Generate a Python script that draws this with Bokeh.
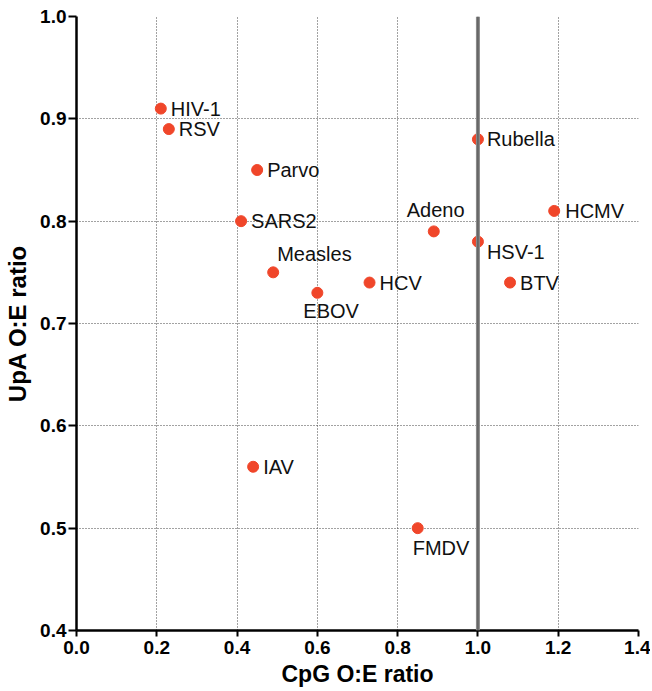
from bokeh.plotting import figure
from bokeh.models import ColumnDataSource, Span, FixedTicker, Range1d, PrintfTickFormatter
from bokeh.core.properties import value
from bokeh.embed import file_html
from bokeh.resources import INLINE

# ---- data ----
viruses = ["HIV-1", "RSV", "Parvo", "SARS2", "Measles", "EBOV", "HCV",
           "Adeno", "Rubella", "HSV-1", "HCMV", "BTV", "IAV", "FMDV"]
cpg_oe = [0.21, 0.23, 0.45, 0.41, 0.49, 0.60, 0.73,
          0.89, 1.00, 1.00, 1.19, 1.08, 0.44, 0.85]
upa_oe = [0.91, 0.89, 0.85, 0.80, 0.75, 0.73, 0.74,
          0.79, 0.88, 0.78, 0.81, 0.74, 0.56, 0.50]
x_ticks = [0.0, 0.2, 0.4, 0.6, 0.8, 1.0, 1.2, 1.4]
y_ticks = [0.4, 0.5, 0.6, 0.7, 0.8, 0.9, 1.0]
reference_cpg = 1.0

# ---- label placement (style, pixels) ----
placement = {
    "Measles": (4, -18), "EBOV": (-14, 18), "Adeno": (-27, -21),
    "Rubella": (9, 0), "HSV-1": (9, 10), "HCMV": (11, 0), "FMDV": (-5, 20),
}
dx = [placement.get(n, (10, 0))[0] for n in viruses]
dy = [placement.get(n, (10, 0))[1] for n in viruses]

src = ColumnDataSource(dict(x=cpg_oe, y=upa_oe, name=viruses, dx=dx, dy=dy))

p = figure(width=650, height=690, output_backend="svg", toolbar_location=None,
           x_range=Range1d(0, 1.4), y_range=Range1d(0.4, 1.0),
           min_border_left=76, min_border_right=12, min_border_top=16, min_border_bottom=60)
p.outline_line_color = None
p.background_fill_color = "white"

# grid
for g in (p.xgrid, p.ygrid):
    g.grid_line_color = "#444444"
    g.grid_line_dash = "1 2"
    g.grid_line_width = 1
p.xaxis.ticker = FixedTicker(ticks=x_ticks)
p.yaxis.ticker = FixedTicker(ticks=y_ticks)
p.xgrid.ticker = FixedTicker(ticks=x_ticks[1:])
p.ygrid.ticker = FixedTicker(ticks=y_ticks[1:])

# reference line
p.add_layout(Span(location=reference_cpg, dimension="height", line_color="#8a8a8a", line_width=4))
p.add_layout(Span(location=reference_cpg, dimension="height", line_color="#555555", line_width=1.2))

# axes
for ax in (p.xaxis, p.yaxis):
    ax.axis_line_width = 2.5
    ax.axis_line_color = "black"
    ax.major_tick_line_width = 2
    ax.major_tick_line_color = "black"
    ax.major_tick_in = 0
    ax.minor_tick_line_color = None
    ax.major_label_text_font = "Liberation Sans"
    ax.major_label_text_font_style = "bold"
    ax.major_label_text_color = "black"
    ax.axis_label_text_font = "Liberation Sans"
    ax.axis_label_text_font_style = "bold"
    ax.axis_label_text_color = "black"
    ax.formatter = PrintfTickFormatter(format="%.1f")
p.xaxis.major_label_text_font_size = "19px"
p.yaxis.major_label_text_font_size = "19px"
p.xaxis.axis_label = "CpG O:E ratio"
p.yaxis.axis_label = "UpA O:E ratio"
p.xaxis.axis_label_text_font_size = "23px"
p.yaxis.axis_label_text_font_size = "24px"
p.xaxis.major_tick_out = 6
p.xaxis.major_label_standoff = 4
p.xaxis.axis_label_standoff = 4
p.yaxis.major_tick_out = 8
p.yaxis.major_label_standoff = 2
p.yaxis.axis_label_standoff = 6

# points
p.scatter("x", "y", source=src, size=11, fill_color="#F0462A", line_color="#F0462A")
p.text("x", "y", text="name", source=src, x_offset="dx", y_offset="dy",
       text_font=value("Liberation Sans"), text_font_size="20px",
       text_baseline="middle", text_align="left", text_color="#111111")

open("out.html", "w").write(file_html(p, INLINE))
